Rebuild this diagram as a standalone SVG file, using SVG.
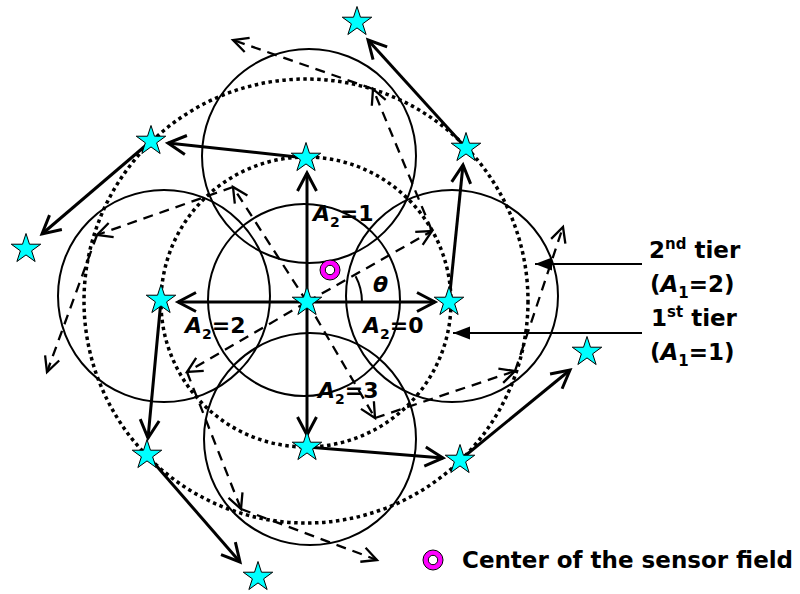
<svg xmlns="http://www.w3.org/2000/svg" width="800" height="594" viewBox="0 0 800 594">
<style>
.c{fill:none;stroke:#000;stroke-width:2}
.dot{fill:none;stroke:#000;stroke-width:3.5;stroke-dasharray:3.5 3.5}
.sa{stroke:#000;stroke-width:3;fill:none;marker-end:url(#ah)}
.da{stroke:#000;stroke-width:2.3;fill:none;stroke-dasharray:10 7;marker-end:url(#dh)}
.la{stroke:#000;stroke-width:2;fill:none;marker-end:url(#th)}
.st{fill:#00FFFF;stroke:#000;stroke-width:1}
.t{font-family:"DejaVu Sans",Verdana,sans-serif;font-weight:bold;fill:#000}
.lab{font-size:22px}
.tier{font-size:23px}
.i{font-style:italic}
</style>
<defs>
<marker id="ah" markerUnits="userSpaceOnUse" viewBox="-25 -15 30 30" markerWidth="30" markerHeight="30" refX="0" refY="0" orient="auto" overflow="visible">
<path d="M-18,-9.5 L0,0 L-18,9.5" fill="none" stroke="#000" stroke-width="3"/>
</marker>
<marker id="dh" markerUnits="userSpaceOnUse" viewBox="-25 -15 30 30" markerWidth="30" markerHeight="30" refX="0" refY="0" orient="auto" overflow="visible">
<path d="M-15,-7.5 L0,0 L-15,7.5" fill="none" stroke="#000" stroke-width="2.3"/>
</marker>
<marker id="th" markerUnits="userSpaceOnUse" viewBox="-25 -15 30 30" markerWidth="30" markerHeight="30" refX="0" refY="0" orient="auto" overflow="visible">
<path d="M-17,-6.5 L0,0 L-17,6.5 Z" fill="#000" stroke="none"/>
</marker>
<path id="star" d="M0,-15.5 L3.48,-4.79 L14.74,-4.79 L5.63,1.83 L9.11,12.54 L0,5.92 L-9.11,12.54 L-5.63,1.83 L-14.74,-4.79 L-3.48,-4.79 Z"/>
<g id="ring"><circle r="10" fill="#FF00FF" stroke="#000" stroke-width="1"/><circle r="4.7" fill="#fff" stroke="#000" stroke-width="1"/></g>
</defs>
<rect width="800" height="594" fill="#fff"/>

<g id="range-circles">
<circle class="c" cx="304" cy="300" r="96"/>
<circle class="c" cx="309" cy="156" r="107"/>
<circle class="c" cx="164" cy="296" r="106"/>
<circle class="c" cx="452" cy="296" r="106"/>
<circle class="c" cx="310" cy="439" r="106"/>
</g>
<g id="tiers">
<circle class="dot" cx="306" cy="302" r="145"/>
<circle class="dot" cx="306" cy="301" r="222"/>
</g>

<g id="connectors">
<line class="da" x1="307" y1="302" x2="432" y2="231"/>
<line class="da" x1="307" y1="302" x2="233" y2="187"/>
<line class="da" x1="307" y1="302" x2="187" y2="372"/>
<line class="da" x1="307" y1="302" x2="375" y2="418"/>
<line class="da" x1="432" y1="231" x2="373" y2="89"/>
<line class="da" x1="233" y1="187" x2="97" y2="235"/>
<line class="da" x1="187" y1="372" x2="241" y2="509"/>
<line class="da" x1="375" y1="418" x2="515" y2="371"/>
<line class="da" x1="373" y1="89" x2="233" y2="40"/>
<line class="da" x1="97" y1="235" x2="47" y2="372"/>
<line class="da" x1="241" y1="509" x2="377" y2="560"/>
<line class="da" x1="515" y1="371" x2="563" y2="227"/>

<line class="sa" x1="307" y1="302" x2="307" y2="173"/>
<line class="sa" x1="307" y1="302" x2="435" y2="302"/>
<line class="sa" x1="307" y1="302" x2="178" y2="302"/>
<line class="sa" x1="307" y1="302" x2="307" y2="435"/>
<line class="sa" x1="306" y1="158" x2="168" y2="143"/>
<line class="sa" x1="449" y1="302" x2="463" y2="165"/>
<line class="sa" x1="161" y1="300" x2="148" y2="438"/>
<line class="sa" x1="307" y1="447" x2="443" y2="458"/>
<line class="sa" x1="151" y1="141" x2="42" y2="234"/>
<line class="sa" x1="466" y1="148" x2="368" y2="40"/>
<line class="sa" x1="460" y1="460" x2="570" y2="370"/>
<line class="sa" x1="147" y1="455" x2="240" y2="562"/>

<path d="M362,302 A55,55 0 0 0 355.6,276.2" class="c"/>

<line class="la" x1="642" y1="264" x2="535" y2="264"/>
<line class="la" x1="642" y1="333" x2="453" y2="333"/>
</g>

<g id="s0"><use href="#star" class="st" x="307" y="302"/></g>
<g id="s1-top"><use href="#star" class="st" x="306" y="158"/></g>
<g id="s1-right"><use href="#star" class="st" x="449" y="302"/></g>
<g id="s1-left"><use href="#star" class="st" x="161" y="300"/></g>
<g id="s1-bottom"><use href="#star" class="st" x="307" y="447"/></g>
<g id="s2-tl"><use href="#star" class="st" x="151" y="141"/></g>
<g id="s2-tr"><use href="#star" class="st" x="466" y="148"/></g>
<g id="s2-bl"><use href="#star" class="st" x="147" y="455"/></g>
<g id="s2-br"><use href="#star" class="st" x="460" y="460"/></g>
<g id="s3-top"><use href="#star" class="st" x="357" y="22"/></g>
<g id="s3-left"><use href="#star" class="st" x="26" y="249"/></g>
<g id="s3-right"><use href="#star" class="st" x="587" y="352"/></g>
<g id="s3-bottom"><use href="#star" class="st" x="258" y="577"/></g>

<g id="field-center"><use href="#ring" x="330" y="270"/></g>

<g id="labels">
<text class="t lab" x="313" y="221"><tspan class="i">A</tspan><tspan font-size="14" dy="6">2</tspan><tspan dy="-6">=1</tspan></text>
<text class="t lab" x="363" y="333"><tspan class="i">A</tspan><tspan font-size="14" dy="6">2</tspan><tspan dy="-6">=0</tspan></text>
<text class="t lab" x="185" y="333"><tspan class="i">A</tspan><tspan font-size="14" dy="6">2</tspan><tspan dy="-6">=2</tspan></text>
<text class="t lab" x="318" y="398"><tspan class="i">A</tspan><tspan font-size="14" dy="6">2</tspan><tspan dy="-6">=3</tspan></text>
<text class="t lab i" x="373" y="292">θ</text>
</g>

<g id="tier-labels">
<text class="t tier" x="649" y="258">2<tspan font-size="15" dy="-9">nd</tspan><tspan dy="9"> tier</tspan></text>
<text class="t tier" x="650" y="292">(<tspan class="i">A</tspan><tspan font-size="15" dy="6">1</tspan><tspan dy="-6">=2)</tspan></text>
<text class="t tier" x="651" y="326">1<tspan font-size="15" dy="-9">st</tspan><tspan dy="9"> tier</tspan></text>
<text class="t tier" x="650" y="360">(<tspan class="i">A</tspan><tspan font-size="15" dy="6">1</tspan><tspan dy="-6">=1)</tspan></text>
</g>

<g id="legend">
<use href="#ring" x="433" y="560"/>
<text class="t tier" x="462" y="568">Center of the sensor field</text>
</g>
</svg>
